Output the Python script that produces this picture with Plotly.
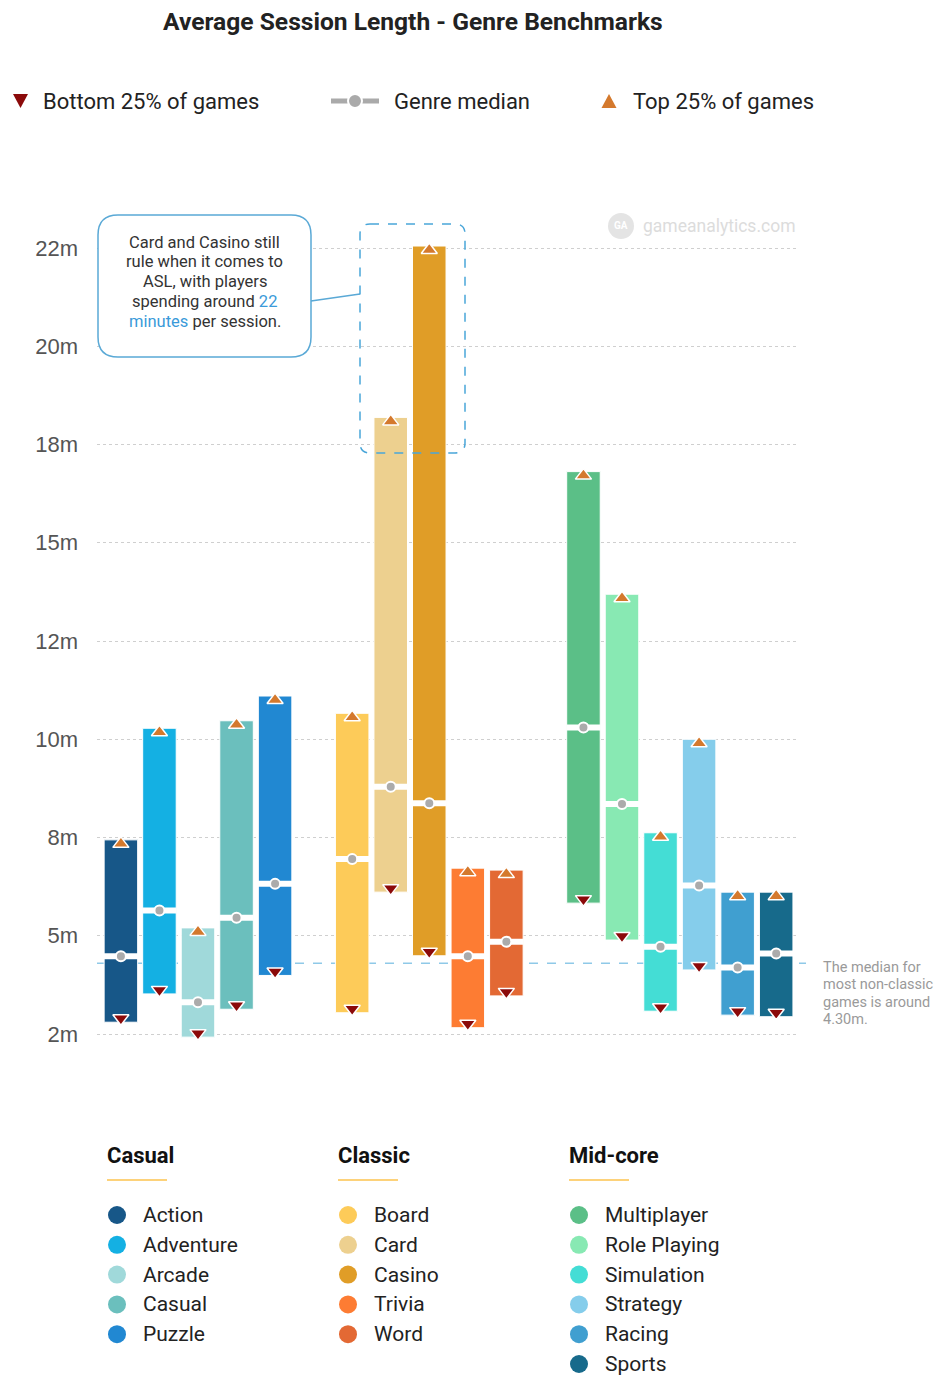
import plotly.graph_objects as go

# ---------------- data ----------------
genres = ["Action", "Adventure", "Arcade", "Casual", "Puzzle",
          "Board", "Card", "Casino", "Trivia", "Word",
          "Multiplayer", "Role Playing", "Simulation", "Strategy", "Racing", "Sports"]
groups = ["Casual", "Casual", "Casual", "Casual", "Casual",
          "Classic", "Classic", "Classic", "Classic", "Classic",
          "Mid-core", "Mid-core", "Mid-core", "Mid-core", "Mid-core", "Mid-core"]
bottom25 = [2.80, 3.52, 2.42, 3.13, 3.99,
            3.04, 6.11, 4.49, 2.66, 3.47,
            5.83, 4.89, 3.08, 4.13, 2.98, 2.94]
median = [4.48, 5.64, 3.31, 5.46, 6.32,
          6.95, 8.79, 8.37, 4.48, 4.85,
          10.30, 8.35, 4.72, 6.28, 4.19, 4.55]
top25 = [7.44, 10.28, 5.20, 10.47, 11.10,
         10.66, 18.19, 22.55, 6.72, 6.67,
         16.81, 13.69, 7.62, 10.00, 6.11, 6.11]
colors = ["#175788", "#14b0e3", "#a0d9da", "#6bbfbd", "#2188d2",
          "#fdcb59", "#edd08f", "#e09d27", "#fd7c33", "#e36934",
          "#5bbf87", "#88e9b3", "#44ddd5", "#85cdeb", "#409fd0", "#176a8b"]
tick_vals = [2.5, 5, 7.5, 10, 12.5, 15, 17.5, 20, 22.5]
tick_text = ["2m", "5m", "8m", "10m", "12m", "15m", "18m", "20m", "22m"]
overall_median = 4.30
callout_lines = ["Card and Casino still", "rule when it comes to", "ASL, with players",
                 "spending around <span style='color:#3a9ad9'>22</span>",
                 "<span style='color:#3a9ad9'>minutes</span> per session."]
note_lines = ["The median for", "most non-classic", "games is around", "4.30m."]

# ---------------- layout helpers ----------------
W, H = 940, 1378
PPM = 39.3            # pixels per minute
Y0_PIX = 1034         # pixel row of 2.5 min
DOM_TOP, DOM_BOT = 200, 1060
DOM_L, DOM_R = 97, 797


def px(x):
    return x / W


def py(y):
    return 1 - y / H


ymin = 2.5 - (DOM_BOT - Y0_PIX) / PPM
ymax = 2.5 + (Y0_PIX - DOM_TOP) / PPM

# category order with spacer slots between groups
cat_order = []
prev = None
gap_names = []
for g, grp in zip(genres, groups):
    if prev is not None and grp != prev:
        gname = " " * (len(gap_names) + 1)
        gap_names.append(gname)
        cat_order.append(gname)
    cat_order.append(g)
    prev = grp

BW = 0.87
GAP = 3.0 / PPM        # half-height of white gap at median
TRI = 4.0 / PPM        # triangle inset

fig = go.Figure()

# spacer categories (invisible)
fig.add_trace(go.Scatter(x=gap_names, y=[5] * len(gap_names), mode="markers",
                         marker=dict(opacity=0), hoverinfo="skip", showlegend=False))

# main bars
fig.add_trace(go.Bar(
    x=genres, base=bottom25, y=[t - b for t, b in zip(top25, bottom25)],
    width=BW, marker=dict(color=colors, line=dict(color="white", width=1)),
    showlegend=False, hoverinfo="skip"))

# white gap at median
fig.add_trace(go.Bar(
    x=genres, base=[m - GAP for m in median], y=[2 * GAP] * len(median),
    width=BW + 0.02, marker=dict(color="white", line=dict(width=0)),
    showlegend=False, hoverinfo="skip"))

# median dots
fig.add_trace(go.Scatter(
    x=genres, y=median, mode="markers",
    marker=dict(symbol="circle", size=10, color="#ababab", line=dict(color="white", width=2)),
    showlegend=False, hoverinfo="skip"))

# top 25% triangles
fig.add_trace(go.Scatter(
    x=genres, y=[t - TRI for t in top25], mode="markers",
    marker=dict(symbol="triangle-up", size=14, color="#d4792d", line=dict(color="white", width=1.5)),
    showlegend=False, hoverinfo="skip"))

# bottom 25% triangles
fig.add_trace(go.Scatter(
    x=genres, y=[b + TRI for b in bottom25], mode="markers",
    marker=dict(symbol="triangle-down", size=14, color="#8b0a0a", line=dict(color="white", width=1.5)),
    showlegend=False, hoverinfo="skip"))

shapes = []
annotations = []


def text_at(x, y, text, size, color="#222", anchor="left", family="Roboto"):
    annotations.append(dict(xref="paper", yref="paper", x=px(x), y=py(y), xanchor=anchor,
                            yanchor="middle", text=text, showarrow=False,
                            font=dict(family=family, size=size, color=color)))


# overall median dashed line
shapes.append(dict(type="line", xref="paper", yref="y", x0=px(DOM_L), x1=px(806),
                   y0=overall_median, y1=overall_median,
                   line=dict(color="#8fc9e8", width=1.5, dash="dash"), layer="below"))


def rrect(x0, y0, x1, y1, r):
    pts = [
        f"M {px(x0 + r)},{py(y0)}",
        f"L {px(x1 - r)},{py(y0)}",
        f"Q {px(x1)},{py(y0)} {px(x1)},{py(y0 + r)}",
        f"L {px(x1)},{py(y1 - r)}",
        f"Q {px(x1)},{py(y1)} {px(x1 - r)},{py(y1)}",
        f"L {px(x0 + r)},{py(y1)}",
        f"Q {px(x0)},{py(y1)} {px(x0)},{py(y1 - r)}",
        f"L {px(x0)},{py(y0 + r)}",
        f"Q {px(x0)},{py(y0)} {px(x0 + r)},{py(y0)}",
        "Z",
    ]
    return " ".join(pts)


def tri(cx, cy, w, h, up=True):
    if up:
        return (f"M {px(cx - w / 2)},{py(cy + h / 2)} L {px(cx + w / 2)},{py(cy + h / 2)} "
                f"L {px(cx)},{py(cy - h / 2)} Z")
    return (f"M {px(cx - w / 2)},{py(cy - h / 2)} L {px(cx + w / 2)},{py(cy - h / 2)} "
            f"L {px(cx)},{py(cy + h / 2)} Z")


# callout box + connector + dashed highlight
shapes.append(dict(type="path", xref="paper", yref="paper", path=rrect(98, 215, 311, 357, 20),
                   fillcolor="white", line=dict(color="#5aa9d6", width=1.5), layer="above"))
shapes.append(dict(type="line", xref="paper", yref="paper", x0=px(311), y0=py(301), x1=px(360), y1=py(294),
                   line=dict(color="#5aa9d6", width=1.5)))
shapes.append(dict(type="path", xref="paper", yref="paper", path=rrect(360, 224, 465, 453, 10),
                   line=dict(color="#4aa6d9", width=1.5, dash="dash"), layer="above"))

for i, ln in enumerate(callout_lines):
    text_at(204.5, 242 + i * 19.8, ln, 16.5, color="#333", anchor="center")

# watermark
shapes.append(dict(type="circle", xref="paper", yref="paper",
                   x0=px(608), x1=px(634), y0=py(213), y1=py(239),
                   fillcolor="#e4e4e4", line=dict(width=0), layer="below"))
text_at(621, 226, "<b>GA</b>", 10, color="white", anchor="center")
text_at(641, 226, "gameanalytics.com", 17.5, color="#dcdcdc")

# right note
for i, ln in enumerate(note_lines):
    text_at(821, 967 + i * 17.6, ln, 14.5, color="#9a9a9a")

# title
text_at(413, 22, "<b>Average Session Length - Genre Benchmarks</b>", 24.6, color="#222", anchor="center")

# top legend
LEG_Y = 101
shapes.append(dict(type="path", xref="paper", yref="paper", path=tri(20.5, LEG_Y, 15, 14, up=False),
                   fillcolor="#8b0a0a", line=dict(width=0)))
text_at(41, LEG_Y, "Bottom 25% of games", 22)
shapes.append(dict(type="line", xref="paper", yref="paper", x0=px(331), x1=px(379),
                   y0=py(LEG_Y), y1=py(LEG_Y), line=dict(color="#aaaaaa", width=5)))
shapes.append(dict(type="circle", xref="paper", yref="paper", x0=px(348), x1=px(362),
                   y0=py(LEG_Y - 7), y1=py(LEG_Y + 7), fillcolor="#aaaaaa",
                   line=dict(color="white", width=2)))
text_at(392, LEG_Y, "Genre median", 22)
shapes.append(dict(type="path", xref="paper", yref="paper", path=tri(609, LEG_Y, 15, 14, up=True),
                   fillcolor="#d4792d", line=dict(width=0)))
text_at(631, LEG_Y, "Top 25% of games", 22)

# genre legend (three columns)
col_x = {"Casual": 107, "Classic": 338, "Mid-core": 569}
ROW0, ROW_H = 1215, 29.8
row_idx = {}
for name in ["Casual", "Classic", "Mid-core"]:
    x0 = col_x[name]
    text_at(x0 - 2, 1155, f"<b>{name}</b>", 22, color="#111")
    shapes.append(dict(type="line", xref="paper", yref="paper", x0=px(x0), x1=px(x0 + 60),
                       y0=py(1180), y1=py(1180), line=dict(color="#fdd27a", width=2)))
for g, grp, c in zip(genres, groups, colors):
    i = row_idx.get(grp, 0)
    row_idx[grp] = i + 1
    yy = ROW0 + i * ROW_H
    x0 = col_x[grp]
    shapes.append(dict(type="circle", xref="paper", yref="paper",
                       x0=px(x0 + 1), x1=px(x0 + 19), y0=py(yy - 9), y1=py(yy + 9),
                       fillcolor=c, line=dict(width=0)))
    text_at(x0 + 34, yy, g, 21)

fig.update_layout(
    width=W, height=H, margin=dict(l=0, r=0, t=0, b=0),
    paper_bgcolor="white", plot_bgcolor="white",
    barmode="overlay", showlegend=False,
    xaxis=dict(domain=[px(DOM_L), px(DOM_R)], type="category",
               categoryorder="array", categoryarray=cat_order,
               range=[-0.62, 17.54], showticklabels=False, showgrid=False,
               zeroline=False, showline=False, ticks=""),
    yaxis=dict(domain=[py(DOM_BOT), py(DOM_TOP)], range=[ymin, ymax],
               tickvals=tick_vals, ticktext=tick_text, ticks="",
               ticklabelstandoff=18,
               tickfont=dict(family="Liberation Sans", size=22, color="#555"),
               showgrid=True, gridcolor="#cfcfcf", gridwidth=1, griddash="3px,3px",
               zeroline=False, showline=False),
    shapes=shapes, annotations=annotations,
)

fig.write_html("out.html")
